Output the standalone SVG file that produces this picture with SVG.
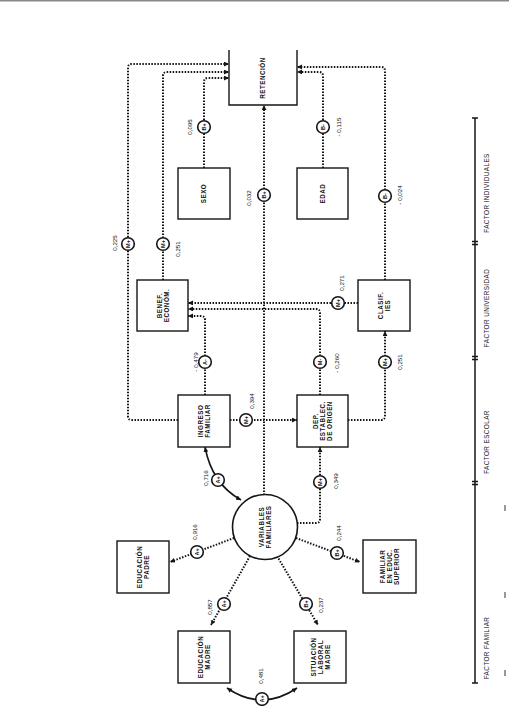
<svg xmlns="http://www.w3.org/2000/svg" width="509" height="706" viewBox="0 0 509 706">
<defs>
<marker id="ah" markerUnits="userSpaceOnUse" markerWidth="6" markerHeight="6" refX="5" refY="2.4" orient="auto-start-reverse"><path d="M0,0 L5,2.4 L0,4.8 z" fill="#151515"/></marker>
</defs>
<style>
.box{fill:#fff;stroke:#151515;stroke-width:1.4}
.dot{fill:none;stroke:#151515;stroke-width:2;stroke-dasharray:1.5 1.5}
.sol{fill:none;stroke:#151515;stroke-width:1.6}
.bc{fill:#fff;stroke:#151515;stroke-width:1.6}
.lb{font-family:"Liberation Sans",Arial,sans-serif;font-weight:bold;font-size:6.3px;letter-spacing:0.5px;text-anchor:middle;fill:#151515}
.num{font-family:"Liberation Sans",Arial,sans-serif;font-size:6.2px;text-anchor:middle;fill:#151515}
.cl{font-family:"Liberation Sans",Arial,sans-serif;font-weight:bold;font-size:5.5px;text-anchor:middle;fill:#151515}
.fac{font-family:"Liberation Sans",Arial,sans-serif;font-size:6.4px;letter-spacing:0.4px;text-anchor:middle;fill:#151515}
.ax{fill:none;stroke:#151515;stroke-width:1.5}
</style>
<rect width="509" height="706" fill="#fff"/>
<line x1="0" y1="0.7" x2="509" y2="0.7" stroke="#888" stroke-width="1.5"/>

<g id="connectors">
<path class="dot" d="M178,420 H132 Q128,420 128,416 V68 Q128,64 132,64 H229" marker-end="url(#ah)"/>
<path class="dot" d="M163,280 V76 Q163,72 167,72 H229" marker-end="url(#ah)"/>
<path class="dot" d="M204,168 V82 Q204,78 208,78 H229" marker-end="url(#ah)"/>
<path class="dot" d="M264,495 V105" marker-end="url(#ah)"/>
<path class="dot" d="M323,168 V76 Q323,72 319,72 H297" marker-end="url(#ah)"/>
<path class="dot" d="M385,280 V71 Q385,67 381,67 H297" marker-end="url(#ah)"/>
<path class="dot" d="M358,303 H188" marker-end="url(#ah)"/>
<path class="dot" d="M320,395 V313 Q320,309 316,309 H188" marker-end="url(#ah)"/>
<path class="dot" d="M205,395 V320 Q205,316 201,316 H188" marker-end="url(#ah)"/>
<path class="dot" d="M230,420 H297" marker-end="url(#ah)"/>
<path class="dot" d="M348,420 H381 Q385,420 385,416 V331" marker-end="url(#ah)"/>
<path class="dot" d="M297,523 H316 Q320,523 320,519 V447" marker-end="url(#ah)"/>
<path class="sol" d="M205,447 Q212,484 241,500" marker-start="url(#ah)" marker-end="url(#ah)"/>
<path class="dot" d="M234,538 L170,562" marker-end="url(#ah)"/>
<path class="dot" d="M250,556 L211,625" marker-end="url(#ah)"/>
<path class="dot" d="M277,556 L318,625" marker-end="url(#ah)"/>
<path class="dot" d="M296,538 L360,562" marker-end="url(#ah)"/>
<path class="sol" d="M227,688 Q262,712 297,688" marker-start="url(#ah)" marker-end="url(#ah)"/>

<g transform="translate(128,244)"><circle r="6.3" class="bc"/><text class="cl" transform="rotate(-90)" y="2">M+</text></g>
<g transform="translate(163,244)"><circle r="6.3" class="bc"/><text class="cl" transform="rotate(-90)" y="2">M+</text></g>
<g transform="translate(204,127)"><circle r="6.3" class="bc"/><text class="cl" transform="rotate(-90)" y="2">B+</text></g>
<g transform="translate(264,195)"><circle r="6.3" class="bc"/><text class="cl" transform="rotate(-90)" y="2">B+</text></g>
<g transform="translate(323,127)"><circle r="6.3" class="bc"/><text class="cl" transform="rotate(-90)" y="2">B-</text></g>
<g transform="translate(385,196)"><circle r="6.3" class="bc"/><text class="cl" transform="rotate(-90)" y="2">B-</text></g>
<g transform="translate(338,303)"><circle r="6.3" class="bc"/><text class="cl" transform="rotate(-90)" y="2">M+</text></g>
<g transform="translate(320,362)"><circle r="6.3" class="bc"/><text class="cl" transform="rotate(-90)" y="2">M-</text></g>
<g transform="translate(205,362)"><circle r="6.3" class="bc"/><text class="cl" transform="rotate(-90)" y="2">A-</text></g>
<g transform="translate(246,420)"><circle r="6.3" class="bc"/><text class="cl" transform="rotate(-90)" y="2">M+</text></g>
<g transform="translate(385,362)"><circle r="6.3" class="bc"/><text class="cl" transform="rotate(-90)" y="2">M+</text></g>
<g transform="translate(320,482)"><circle r="6.3" class="bc"/><text class="cl" transform="rotate(-90)" y="2">M+</text></g>
<g transform="translate(218,480)"><circle r="6.3" class="bc"/><text class="cl" transform="rotate(-90)" y="2">A+</text></g>
<g transform="translate(197,552)"><circle r="6.3" class="bc"/><text class="cl" transform="rotate(-90)" y="2">A+</text></g>
<g transform="translate(224,604)"><circle r="6.3" class="bc"/><text class="cl" transform="rotate(-90)" y="2">A+</text></g>
<g transform="translate(306,604)"><circle r="6.3" class="bc"/><text class="cl" transform="rotate(-90)" y="2">B+</text></g>
<g transform="translate(337,553)"><circle r="6.3" class="bc"/><text class="cl" transform="rotate(-90)" y="2">B+</text></g>
<g transform="translate(262,699)"><circle r="6.3" class="bc"/><text class="cl" transform="rotate(-90)" y="2">A+</text></g>

<text class="num" transform="translate(115,243) rotate(-90)" y="2">0,225</text>
<text class="num" transform="translate(178,249) rotate(-90)" y="2">0,251</text>
<text class="num" transform="translate(190,127) rotate(-90)" y="2">0,095</text>
<text class="num" transform="translate(249,198) rotate(-90)" y="2">0,032</text>
<text class="num" transform="translate(339,127) rotate(-90)" y="2">- 0,115</text>
<text class="num" transform="translate(400,195) rotate(-90)" y="2">- 0,024</text>
<text class="num" transform="translate(342,283) rotate(-90)" y="2">0,271</text>
<text class="num" transform="translate(337,363) rotate(-90)" y="2">- 0,260</text>
<text class="num" transform="translate(196,362) rotate(-90)" y="2">- 0,479</text>
<text class="num" transform="translate(252,401) rotate(-90)" y="2">0,394</text>
<text class="num" transform="translate(400,362) rotate(-90)" y="2">0,251</text>
<text class="num" transform="translate(336,481) rotate(-90)" y="2">0,349</text>
<text class="num" transform="translate(206,478) rotate(-90)" y="2">0,716</text>
<text class="num" transform="translate(195,532) rotate(-90)" y="2">0,916</text>
<text class="num" transform="translate(339,533) rotate(-90)" y="2">0,244</text>
<text class="num" transform="translate(210,607) rotate(-90)" y="2">0,857</text>
<text class="num" transform="translate(321,605) rotate(-90)" y="2">0,237</text>
<text class="num" transform="translate(261,676) rotate(-90)" y="2">0,481</text>
</g>

<g id="retencion">
<path class="box" d="M229,50 V105 H297 V50" fill="none"/>
<text class="lb" transform="translate(263,78) rotate(-90)" y="2.2">RETENCIÓN</text>
</g>
<g id="sexo">
<rect class="box" x="178" y="168" width="52" height="51"/>
<text class="lb" transform="translate(204,193.5) rotate(-90)" y="2.2">SEXO</text>
</g>
<g id="edad">
<rect class="box" x="297" y="168" width="51" height="51"/>
<text class="lb" transform="translate(322.5,193.5) rotate(-90)" y="2.2">EDAD</text>
</g>
<g id="benef">
<rect class="box" x="137" y="280" width="51" height="51"/>
<text class="lb" transform="translate(162.5,305.5) rotate(-90)"><tspan x="0" y="-1">BENEF.</tspan><tspan x="0" y="6">ECONÓM.</tspan></text>
</g>
<g id="clasif">
<rect class="box" x="358" y="280" width="52" height="51"/>
<text class="lb" transform="translate(384,305.5) rotate(-90)"><tspan x="0" y="-1">CLASIF.</tspan><tspan x="0" y="6">IES</tspan></text>
</g>
<g id="ingreso">
<rect class="box" x="178" y="395" width="52" height="52"/>
<text class="lb" transform="translate(204,421) rotate(-90)"><tspan x="0" y="-1">INGRESO</tspan><tspan x="0" y="6">FAMILIAR</tspan></text>
</g>
<g id="dep">
<rect class="box" x="297" y="395" width="51" height="52"/>
<text class="lb" transform="translate(322.5,421) rotate(-90)"><tspan x="0" y="-4.5">DEP.</tspan><tspan x="0" y="2.5">ESTABLEC.</tspan><tspan x="0" y="9.5">DE ORIGEN</tspan></text>
</g>
<g id="variables">
<circle cx="265" cy="527" r="32.5" fill="#fff" stroke="#151515" stroke-width="1.6"/>
<text class="lb" transform="translate(265,527) rotate(-90)"><tspan x="0" y="-1">VARIABLES</tspan><tspan x="0" y="6">FAMILIARES</tspan></text>
</g>
<g id="educ-padre">
<rect class="box" x="117" y="541" width="52" height="52"/>
<text class="lb" transform="translate(143,567) rotate(-90)"><tspan x="0" y="-1">EDUCACIÓN</tspan><tspan x="0" y="6">PADRE</tspan></text>
</g>
<g id="familiar-educ">
<rect class="box" x="363" y="540" width="53" height="53"/>
<text class="lb" transform="translate(389.5,566.5) rotate(-90)"><tspan x="0" y="-4.5">FAMILIAR</tspan><tspan x="0" y="2.5">EN EDUC.</tspan><tspan x="0" y="9.5">SUPERIOR</tspan></text>
</g>
<g id="educ-madre">
<rect class="box" x="178" y="631" width="52" height="52"/>
<text class="lb" transform="translate(204,657) rotate(-90)"><tspan x="0" y="-1">EDUCACIÓN</tspan><tspan x="0" y="6">MADRE</tspan></text>
</g>
<g id="situacion">
<rect class="box" x="294" y="631" width="52" height="52"/>
<text class="lb" transform="translate(320,657) rotate(-90)"><tspan x="0" y="-4.5">SITUACIÓN</tspan><tspan x="0" y="2.5">LABORAL</tspan><tspan x="0" y="9.5">MADRE</tspan></text>
</g>

<g id="factor-axis">
<line class="ax" x1="475" y1="118" x2="475" y2="683"/>
<line class="ax" x1="472" y1="118" x2="478" y2="118"/>
<line class="ax" x1="472" y1="683" x2="478" y2="683"/>
<path class="ax" d="M472,241.5 H478 M472,244.5 H478 M472,356.5 H478 M472,359.5 H478 M472,481.5 H478 M472,484.5 H478"/>
<text class="fac" transform="translate(487,193) rotate(-90)" y="2.2">FACTOR INDIVIDUALES</text>
<text class="fac" transform="translate(487,308) rotate(-90)" y="2.2">FACTOR UNIVERSIDAD</text>
<text class="fac" transform="translate(487,442) rotate(-90)" y="2.2">FACTOR ESCOLAR</text>
<text class="fac" transform="translate(487,648) rotate(-90)" y="2.2">FACTOR FAMILIAR</text>
</g>
<path d="M505,505 V511 M505,592 V598 M505,670 V676" stroke="#333" stroke-width="1"/>
</svg>
